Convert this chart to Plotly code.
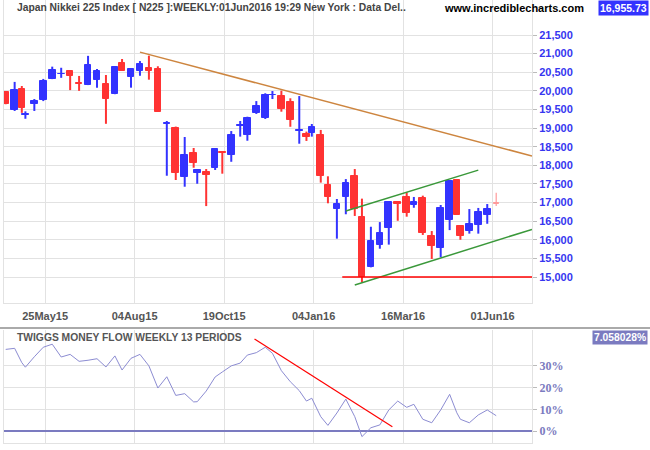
import numpy as np
import pandas as pd
import plotly.graph_objects as go

# Tokyo exchange closures in the period (x axis runs on trading days)
HOLIDAYS = [
    "2015-04-29", "2015-05-04", "2015-05-05", "2015-05-06", "2015-07-20",
    "2015-09-21", "2015-09-22", "2015-09-23", "2015-10-12", "2015-11-03",
    "2015-11-23", "2015-12-23", "2015-12-31", "2016-01-01", "2016-01-11",
    "2016-02-11", "2016-03-21", "2016-04-29", "2016-05-03", "2016-05-04",
    "2016-05-05",
]
WEEKS = pd.date_range("2015-04-17", "2016-06-03", freq="W-FRI")

OPEN = [19970, 19490, 20050, 19360, 19655, 19750, 20320, 20440, 20530, 20200,
        20160, 20300, 20185, 19925, 20750, 20380, 20540, 20615, 20590, 19110,
        19000, 17695, 18330, 17800, 17820, 17935, 18345, 18285, 19065, 18820,
        19415, 19270, 19880, 19870, 19710, 18930, 18840, 18860, 18815, 17470,
        16835, 17155, 17705, 16610, 15275, 15870, 16325, 17005, 17150, 16940,
        17120, 16100, 15785, 16540, 17605, 16370, 16245, 16405, 16675, 16990]
HIGH = [19985, 20240, 20130, 19450, 19780, 20320, 20650, 20620, 20535, 20400,
        20940, 20590, 20425, 20660, 20855, 20600, 20800, 20945, 20660, 19190,
        19040, 18760, 18465, 17880, 17900, 18450, 18385, 18920, 19190, 19305,
        19725, 19935, 19995, 20005, 19800, 19860, 18905, 19110, 18950, 17705,
        17095, 17630, 17900, 17105, 16350, 16475, 17030, 17010, 17275, 17150,
        17185, 16235, 16935, 17590, 17615, 16380, 16825, 16855, 16960, 17265]
LOW = [19640, 19460, 19410, 19250, 19460, 19725, 20315, 20350, 20020, 20000,
       20155, 20085, 19115, 19910, 20540, 20085, 20405, 20300, 19440, 17720,
       17605, 17425, 17935, 17505, 16905, 17875, 17775, 18095, 18770, 18660,
       19380, 19245, 19780, 19440, 19035, 18580, 18655, 18770, 17535, 16980,
       16030, 16685, 16640, 14860, 15260, 15760, 15870, 16510, 16620, 16860,
       16130, 15485, 15530, 16260, 16665, 16000, 16165, 16165, 16430, 16905]
CLOSE = [19650, 20020, 19550, 19380, 19730, 20265, 20560, 20460, 20405, 20180,
         20700, 20535, 19790, 20640, 20545, 20595, 20725, 20520, 19440, 19130,
         17800, 18275, 18070, 17875, 17750, 18440, 18330, 18815, 19085, 19265,
         19595, 19890, 19895, 19515, 19215, 18950, 18770, 19020, 17720, 17155,
         16960, 17525, 16835, 14990, 15965, 16180, 17020, 16955, 16725, 17025,
         16190, 15840, 16850, 17580, 16675, 16110, 16425, 16745, 16825, 16955.73]

# Twiggs Money Flow (13 week), percent
TMF = [37.6, 38.1, 31.5, 29.4, 34.2, 38.6, 40.0, 34.1, 35.3, 32.1,
       32.6, 33.3, 29.5, 34.6, 28.1, 33.5, 35.3, 30.0, 19.8, 25.0,
       16.4, 17.2, 13.4, 13.5, 18.4, 24.9, 27.2, 30.0, 31.3, 35.0,
       36.1, 38.6, 35.8, 27.8, 22.7, 18.6, 13.8, 15.1, 6.6, 2.6,
       8.3, 14.7, 6.6, -2.6, 1.5, 2.8, 9.7, 13.8, 10.9, 12.3,
       5.4, 3.8, 9.7, 16.9, 8.4, 5.4, 3.8, 7.4, 9.7, 7.058028]

TICK_DATES = ["2015-05-25", "2015-08-04", "2015-10-19", "2016-01-04", "2016-03-16", "2016-06-01"]
TICK_LABELS = ["25May15", "04Aug15", "19Oct15", "04Jan16", "16Mar16", "01Jun16"]

# trend lines drawn on the chart (date, value)
DOWN_TREND = (["2015-08-07", "2016-07-01"], [21040, 18250])
CHANNEL_TOP = (["2016-01-29", "2016-05-20"], [16775, 17870])
CHANNEL_BOTTOM = (["2016-02-05", "2016-07-01"], [14785, 16280])
SUPPORT = (["2016-01-27", "2016-07-01"], [15000, 15000])
RESIST_LEVELS = [17000, 18000]
TMF_TREND = (["2015-11-12", "2016-03-08"], [42.4, 2.0])

PRICE_TICKS = list(range(15000, 21501, 500))
TMF_TICKS = [0, 10, 20, 30]

BLUE = "#3333FF"
RED = "#FF3333"
PINK = "#FF9A9A"
GRID = "#E2E2E2"


def tpos(dates):
    d = pd.to_datetime(pd.Series(dates)).values.astype("datetime64[D]")
    return np.busday_count(np.datetime64("2015-04-17"), d + 1, holidays=HOLIDAYS)


x = tpos(WEEKS)
o, h, l, c = map(np.array, (OPEN, HIGH, LOW, CLOSE))
up = c >= o
x_end = tpos(["2016-07-01"])[0]
x_range = [x[0] - 0.95, x_end]

fig = go.Figure()

# candles: all complete weeks, then the current (partial) week in pink
done = np.arange(len(x)) < len(x) - 1
for mask, col in ((up & done, BLUE), (~up & done, RED), (~done, PINK)):
    xs, ys = [], []
    for xi, lo, hi in zip(x[mask], l[mask], h[mask]):
        xs += [xi, xi, None]
        ys += [lo, hi, None]
    fig.add_trace(go.Scatter(x=xs, y=ys, mode="lines",
                             line=dict(color=col, width=2 if col != PINK else 1.2),
                             hoverinfo="skip", showlegend=False))
    fig.add_trace(go.Bar(x=x[mask], y=np.abs(c - o)[mask], base=np.minimum(o, c)[mask],
                         width=3.7 if col != PINK else 3.0, marker_color=col,
                         marker_line=dict(color=col, width=1), showlegend=False))

for (dts, vals), col in ((DOWN_TREND, "#CD853F"), (CHANNEL_TOP, "#3A983A"),
                         (CHANNEL_BOTTOM, "#3A983A"), (SUPPORT, "#FF0000")):
    fig.add_trace(go.Scatter(x=tpos(dts), y=vals, mode="lines",
                             line=dict(color=col, width=1.5), showlegend=False))

for lvl in RESIST_LEVELS:
    fig.add_shape(type="line", xref="x domain", yref="y", x0=0, x1=1, y0=lvl, y1=lvl,
                  line=dict(color="#808000", width=1.3))

# money flow panel
fig.add_trace(go.Scatter(x=x, y=TMF, mode="lines", xaxis="x2", yaxis="y2",
                         line=dict(color="#8C8CD2", width=1), showlegend=False))
fig.add_trace(go.Scatter(x=tpos(TMF_TREND[0]), y=TMF_TREND[1], mode="lines",
                         xaxis="x2", yaxis="y2",
                         line=dict(color="#FF0000", width=1.2), showlegend=False))

tickx = tpos(TICK_DATES)
axis_font = dict(family="Liberation Sans, Arial", size=11, color="#555555", weight="bold")

fig.update_layout(
    width=650, height=450,
    margin=dict(l=0, r=0, t=0, b=0),
    paper_bgcolor="white", plot_bgcolor="white",
    barmode="overlay", bargap=0,
    xaxis=dict(domain=[4 / 650, 532 / 650], range=x_range, tickvals=tickx,
               ticktext=TICK_LABELS, showgrid=True, gridcolor=GRID, zeroline=False,
               showline=True, linecolor=GRID, ticks="", tickfont=axis_font,
               ticklabelstandoff=3, anchor="y"),
    yaxis=dict(domain=[1 - 303 / 450, 1], range=[14302, 22440], side="right",
               tickvals=PRICE_TICKS, tickformat=",d", showgrid=True, gridcolor=GRID,
               zeroline=False, showline=True, mirror=True, linecolor=GRID,
               ticks="outside", ticklen=4, tickcolor="#BBBBBB",
               tickfont=dict(family="Liberation Sans, Arial", size=11, color="#3636F0",
                             weight="bold"), anchor="x"),
    xaxis2=dict(domain=[4 / 650, 532 / 650], range=x_range, tickvals=tickx,
                showticklabels=False, showgrid=True, gridcolor=GRID, zeroline=False,
                showline=True, linecolor=GRID, ticks="", anchor="y2"),
    yaxis2=dict(domain=[1 - 443 / 450, 1 - 330 / 450], range=[-5.53, 46.54], side="right",
                tickvals=TMF_TICKS, ticktext=[f"{v}%" for v in TMF_TICKS],
                showgrid=True, gridcolor=GRID,
                zeroline=True, zerolinecolor="#7B7BC0", zerolinewidth=1.5,
                showline=True, mirror=True, linecolor=GRID,
                ticks="outside", ticklen=4, tickcolor="#BBBBBB",
                tickfont=dict(family="Liberation Serif, Times New Roman", size=12,
                              color="#7B7BC0", weight="bold"), anchor="x2"),
    shapes=[dict(type="line", xref="paper", yref="paper", x0=0, x1=1,
                 y0=1 - 328 / 450, y1=1 - 328 / 450, line=dict(color="#AAAAAA", width=2))],
)

header_font = dict(family="Liberation Sans, Arial", size=10.3, color="#444444", weight="bold")
fig.add_annotation(x=15 / 650, y=1, xref="paper", yref="paper", xanchor="left", yanchor="top",
                   text="Japan Nikkei 225 Index [ N225 ]:WEEKLY:01Jun2016 19:29 New York : Data Del..",
                   showarrow=False, font=header_font)
fig.add_annotation(x=442 / 650, y=1, xref="paper", yref="paper", xanchor="left", yanchor="top",
                   text="www.incrediblecharts.com", showarrow=False,
                   font=dict(header_font, size=11, color="black"))
fig.add_annotation(x=649 / 650, y=1, xref="paper", yref="paper", xanchor="right", yanchor="top",
                   text=f"{CLOSE[-1]:,.2f}", showarrow=False, bgcolor=BLUE, borderpad=1,
                   font=dict(family="Liberation Sans, Arial", size=10.5, color="white",
                             weight="bold"))
fig.add_annotation(x=15 / 650, y=1 - 330 / 450, xref="paper", yref="paper",
                   xanchor="left", yanchor="top",
                   text="TWIGGS MONEY FLOW WEEKLY 13 PERIODS", showarrow=False,
                   font=dict(family="Liberation Sans, Arial", size=10.3, color="#555555",
                             weight="bold"))
fig.add_annotation(x=648 / 650, y=1 - 330 / 450, xref="paper", yref="paper",
                   xanchor="right", yanchor="top",
                   text=f"{TMF[-1]:.6f}%", showarrow=False, bgcolor="#7B7BC0", borderpad=1,
                   font=dict(family="Liberation Sans, Arial", size=10.3, color="white",
                             weight="bold"))

# page body has a default 8px margin; drop it so the chart sits at the window corner
fig.write_html("out.html", config={"displayModeBar": False},
               post_script="document.body.style.margin='0';")
